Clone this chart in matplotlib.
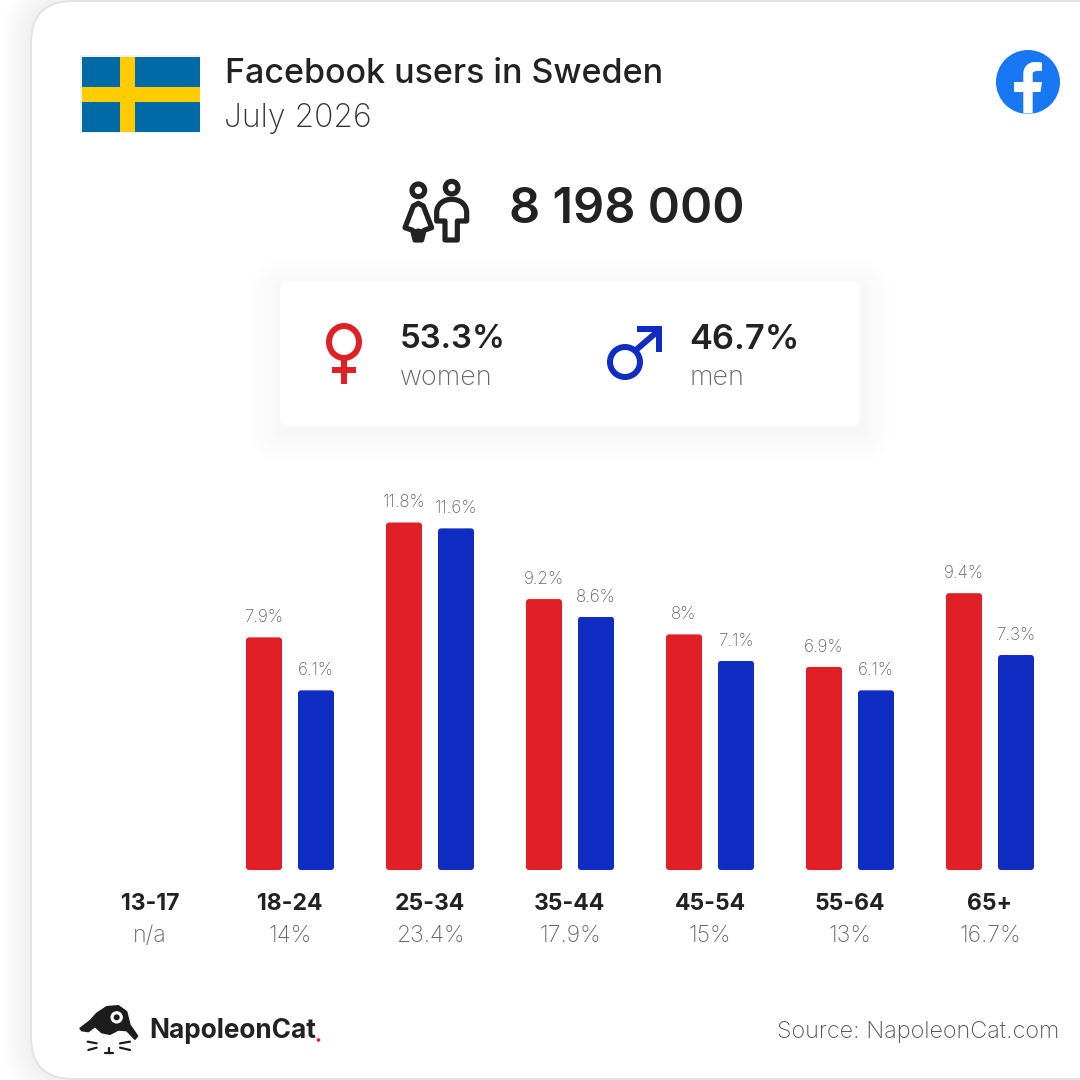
import numpy as np
import matplotlib
matplotlib.use("Agg")
import matplotlib.pyplot as plt
from matplotlib.patches import FancyBboxPatch, Rectangle, Circle, Ellipse, PathPatch, Polygon
from matplotlib.path import Path

# ---- data ----
categories = ["13-17", "18-24", "25-34", "35-44", "45-54", "55-64", "65+"]
shares = ["n/a", "14%", "23.4%", "17.9%", "15%", "13%", "16.7%"]
women = [np.nan, 7.9, 11.8, 9.2, 8.0, 6.9, 9.4]
men = [np.nan, 6.1, 11.6, 8.6, 7.1, 6.1, 7.3]
title = "Facebook users in Sweden"
subtitle = "July 2026"
total = "8 198 000"
women_share = "53.3%"
men_share = "46.7%"

RED = "#e01f26"
BLUE = "#0f2dc2"
INK = "#222222"
GREY = "#666666"
FONT = "Inter"

plt.rcParams["font.family"] = [FONT, "DejaVu Sans"]
PX = 0.72

fig = plt.figure(figsize=(10.8, 10.8), dpi=100, facecolor="white")

# overlay in pixel coordinates
ov = fig.add_axes([0, 0, 1, 1], zorder=0)
ov.set_xlim(0, 1080)
ov.set_ylim(1080, 0)
ov.axis("off")


def rrect(x0, y0, x1, y1, r, **kw):
    p = FancyBboxPatch((x0 + r, y0 + r), x1 - x0 - 2 * r, y1 - y0 - 2 * r,
                       boxstyle=f"round,pad={r},rounding_size={r}", **kw)
    ov.add_patch(p)
    return p


# card shadow + card
for i in range(14):
    g = 30 - i * 2
    rrect(31 - g, 1 - g, 1200 + g, 1079 + g, 42 + g, fc="#000000", ec="none", alpha=0.0024)
rrect(31, 1, 1200, 1079, 42, fc="white", ec="#e3e3e3", lw=2 * PX)

# flag
ov.add_patch(Rectangle((80, 55), 120, 78, fc="#f1f3f5", ec="none"))
ov.add_patch(Rectangle((82, 57), 118, 75, fc="#006aa7", ec="none"))
ov.add_patch(Rectangle((120, 57), 15, 75, fc="#fecc00", ec="none"))
ov.add_patch(Rectangle((82, 87), 118, 15, fc="#fecc00", ec="none"))

# title
ov.text(225, 74, title, fontsize=34 * PX, fontweight="medium", color=INK, va="center", ha="left")
ov.text(224, 118, subtitle, fontsize=32 * PX, fontweight="light", color="#333333", va="center", ha="left")

# facebook badge
ov.add_patch(Circle((1028, 82), 32, fc="#1877f2", ec="none"))
f_v = [(1023.3, 113.5), (1023.3, 92), (1014, 92), (1014, 82), (1023.3, 82), (1023.3, 74),
       (1023.3, 66), (1029, 62), (1035, 62), (1038, 62), (1040.5, 62.3), (1042, 62.7),
       (1042, 71), (1037, 71), (1034, 71), (1032.7, 73), (1032.7, 76), (1032.7, 82),
       (1042, 82), (1040.5, 92), (1032.7, 92), (1032.7, 113.5), (1023.3, 113.5)]
f_c = [Path.MOVETO, Path.LINETO, Path.LINETO, Path.LINETO, Path.LINETO, Path.LINETO,
       Path.CURVE4, Path.CURVE4, Path.CURVE4, Path.CURVE3, Path.CURVE3, Path.LINETO,
       Path.LINETO, Path.LINETO, Path.CURVE3, Path.CURVE3, Path.LINETO, Path.LINETO,
       Path.LINETO, Path.LINETO, Path.LINETO, Path.LINETO, Path.CLOSEPOLY]
ov.add_patch(PathPatch(Path(f_v, f_c), fc="white", ec="none"))


def ic(pts):
    return [(395 + x / 3, 171 + y / 3) for x, y in pts]


sw = 5.2 * PX
ov.add_patch(Circle(ic([(70, 58)])[0], 6.3, fc="none", ec=INK, lw=sw))
ov.add_patch(Circle(ic([(170, 50)])[0], 6.3, fc="none", ec=INK, lw=sw))
woman = ic([(70, 97), (85, 105), (110, 170), (87, 178), (80, 207), (60, 207), (53, 178), (30, 170), (55, 105)])
ov.add_patch(Polygon(woman, closed=True, fc="none", ec=INK, lw=sw, joinstyle="round"))
ov.add_patch(Polygon(ic([(56, 176), (70, 172), (84, 176), (80, 207), (60, 207)]), fc=INK, ec="none"))
mv = ic([(170, 85), (198, 85), (215, 103), (215, 125), (215, 150), (187, 150), (187, 207),
         (150, 207), (150, 150), (125, 150), (125, 125), (125, 103), (142, 85), (170, 85), (170, 85)])
mc = [Path.MOVETO, Path.CURVE4, Path.CURVE4, Path.CURVE4, Path.LINETO, Path.LINETO, Path.LINETO,
      Path.LINETO, Path.LINETO, Path.LINETO, Path.LINETO, Path.CURVE4, Path.CURVE4, Path.CURVE4, Path.CLOSEPOLY]
ov.add_patch(PathPatch(Path(mv, mc), fc="none", ec=INK, lw=sw, joinstyle="round"))

ov.text(509, 210, total, fontsize=48.7 * PX, fontweight="semibold", color=INK, va="center", ha="left")

# gender panel with a soft shadow built from opaque layers
for i, shade in enumerate(["#fefefe", "#fdfdfd", "#fcfcfc", "#fbfbfb", "#fafafa", "#f9f9f9", "#f8f8f8", "#f7f7f7"]):
    g = 32 - i * 4
    rrect(280 - g, 284 - g + 6, 860 + g, 426 + g + 6, 8 + g, fc=shade, ec="none")
rrect(280, 282, 860, 426, 8, fc="white", ec="none")

ov.add_patch(Ellipse((344, 342), 30, 32, fc="none", ec=RED, lw=6 * PX))
ov.add_patch(Rectangle((341, 360), 6, 24, fc=RED, ec="none"))
ov.add_patch(Rectangle((332, 367), 24, 6, fc=RED, ec="none"))

ov.add_patch(Circle((625, 362), 15, fc="none", ec=BLUE, lw=6 * PX))
ov.plot([636, 658], [350, 331], color=BLUE, lw=6 * PX, solid_capstyle="butt")
ov.add_patch(Polygon([(637, 326), (662, 326), (662, 352), (656, 352), (656, 332), (637, 332)], fc=BLUE, ec="none"))

ov.text(400, 340, women_share, fontsize=33 * PX, fontweight="semibold", color=INK, va="center")
ov.text(400, 378, "women", fontsize=27 * PX, fontweight="light", color=GREY, va="center")
ov.text(689, 340, men_share, fontsize=34.5 * PX, fontweight="semibold", color=INK, va="center")
ov.text(690, 378, "men", fontsize=27 * PX, fontweight="light", color=GREY, va="center")

# chart axes: pixel box 80..1080 x, 470..870 y
ax = fig.add_axes([80 / 1080, (1080 - 870) / 1080, 1000 / 1080, 400 / 1080], zorder=1)
ax.patch.set_alpha(0)
STEP, BW, OFF, PXV = 140.0, 36.0, 26.0, 29.45
ax.set_xlim(-70 / STEP, 930 / STEP)
ax.set_ylim(0, 400 / PXV)
for s in ax.spines.values():
    s.set_visible(False)
ax.set_yticks([])
ax.set_xticks(range(len(categories)), categories, fontsize=23 * PX, fontweight="bold", color=INK)
ax.tick_params(axis="x", length=0, pad=34 * PX)
for lab in ax.get_xticklabels():
    lab.set_verticalalignment("center")
pos = np.arange(len(categories))
for vals, sign, col in ((women, -1, RED), (men, 1, BLUE)):
    mask = ~np.isnan(vals)
    bars = ax.bar(pos[mask] + sign * OFF / STEP, np.array(vals)[mask], width=BW / STEP, color=col)
    for b, v in zip(bars, np.array(vals)[mask]):
        x0, y0 = ax.transData.transform((b.get_x(), 0))
        x1, y1 = ax.transData.transform((b.get_x() + b.get_width(), v))
        r = 3
        rp = FancyBboxPatch((x0 + r, y0 + r), x1 - x0 - 2 * r, y1 - y0 - 2 * r,
                            boxstyle=f"round,pad={r},rounding_size={r}", transform=None)
        b.set_clip_path(rp)
        ax.annotate(f"{v:g}%", (b.get_x() + b.get_width() / 2, v), xytext=(0, 19.5 * PX),
                    textcoords="offset points", ha="center", va="center",
                    fontsize=17 * PX, fontweight="light", color=GREY)
for i, s in enumerate(shares):
    ax.annotate(s, (i, 0), xytext=(0, -66 * PX), textcoords="offset points", ha="center", va="center",
                fontsize=23 * PX, fontweight="light", color=GREY, annotation_clip=False)


def lg(pts):
    return [(75 + x / 3, 1000 + y / 3) for x, y in pts]


cat = lg([(15, 85), (45, 62), (65, 40), (95, 20), (130, 17), (155, 35), (165, 75), (188, 108), (180, 118),
          (155, 92), (130, 90), (105, 103), (80, 98), (60, 80), (40, 95), (20, 92)])
ov.add_patch(Polygon(cat, closed=True, fc="#1c1c1c", ec="#1c1c1c", lw=1, joinstyle="round"))
ov.add_patch(Circle(lg([(125, 52)])[0], 6.2, fc="white", ec="none"))
ov.add_patch(Circle(lg([(125, 52)])[0], 3, fc="#1c1c1c", ec="none"))
for seg in ([(38, 125), (65, 130)], [(40, 150), (65, 143)], [(135, 130), (165, 125)], [(135, 143), (165, 150)],
            [(90, 158), (115, 158)], [(102, 144), (102, 158)]):
    (xa, ya), (xb, yb) = lg(seg)
    ov.plot([xa, xb], [ya, yb], color="#1c1c1c", lw=2.2 * PX, solid_capstyle="round")
ov.text(149, 1031, "NapoleonCat", fontsize=26.2 * PX, fontweight="bold", color=INK, va="center")
ov.add_patch(Circle((318.5, 1040), 1.8, fc=RED, ec="none"))
ov.text(1059, 1032, "Source: NapoleonCat.com", fontsize=23.4 * PX, fontweight="light", color="#555555", va="center", ha="right")

fig.savefig("out.png", dpi=100)
